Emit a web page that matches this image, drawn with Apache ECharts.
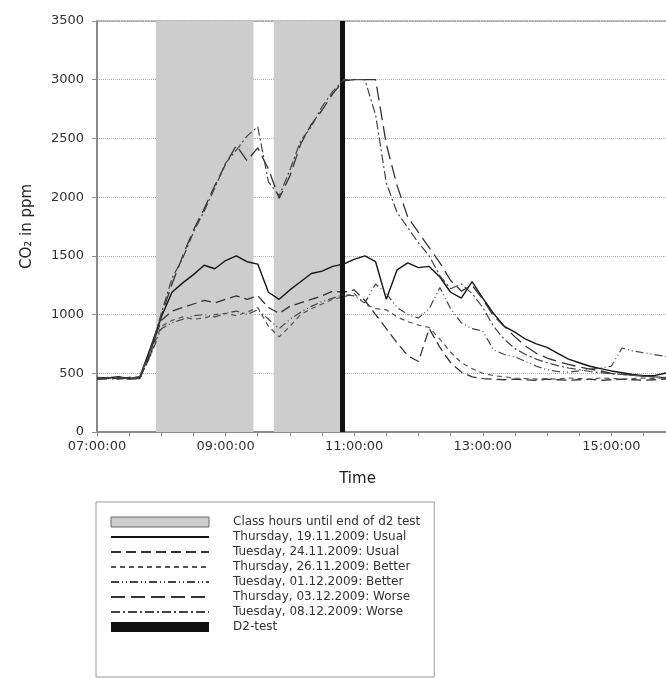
<!DOCTYPE html>
<html><head><meta charset="utf-8">
<script src="https://cdn.jsdelivr.net/npm/echarts@6/dist/echarts.min.js"></script>
<style>html,body{margin:0;padding:0;background:#fff}#c{width:666px;height:679px}</style>
</head><body><div id="c"></div>
<script>
const times = ["07:00","07:10","07:20","07:30","07:40","07:50","08:00","08:10","08:20","08:30","08:40","08:50",
"09:00","09:10","09:20","09:30","09:40","09:50","10:00","10:10","10:20","10:30","10:40","10:50",
"11:00","11:10","11:20","11:30","11:40","11:50","12:00","12:10","12:20","12:30","12:40","12:50",
"13:00","13:10","13:20","13:30","13:40","13:50","14:00","14:10","14:20","14:30","14:40","14:50",
"15:00","15:10","15:20","15:30","15:40","15:50","16:00"];
const xTickLabels = {"7":"07:00:00","9":"09:00:00","11":"11:00:00","13":"13:00:00","15":"15:00:00"};
const classHours = [["07:55","09:26"],["09:45","10:49"]];
const d2Test = "10:49";
const seriesNames = ["Thursday, 19.11.2009: Usual","Tuesday, 24.11.2009: Usual","Thursday, 26.11.2009: Better",
"Tuesday, 01.12.2009: Better","Thursday, 03.12.2009: Worse","Tuesday, 08.12.2009: Worse"];
const classLabel = "Class hours until end of d2 test";
const d2Label = "D2-test";

const thu1911 = [465,460,470,455,470,720,980,1190,1270,1340,1420,1390,1460,1500,1450,1430,1190,1130,1210,1280,1350,1370,1410,1430,
1470,1500,1450,1130,1380,1440,1400,1410,1320,1190,1140,1280,1140,1010,900,850,790,750,720,670,620,590,560,540,520,505,490,480,480,500,550];
const tue2411 = [455,450,460,450,455,690,950,1030,1060,1090,1120,1100,1130,1160,1130,1160,1060,1010,1070,1100,1130,1160,1200,1190,
1210,1120,1000,880,760,650,600,880,720,590,510,470,455,450,445,450,445,440,450,445,440,445,450,440,445,450,445,440,445,450,445];
const thu2611 = [460,465,455,460,470,670,900,950,980,960,970,1000,1010,990,1020,1060,900,810,900,1000,1050,1090,1130,1150,
1180,1090,1050,1040,980,940,910,890,790,680,590,540,500,480,470,460,455,450,455,450,460,455,450,460,455,450,455,460,455,465,460];
const tue0112 = [450,455,450,460,455,650,880,930,960,990,1000,980,1010,1030,1000,1040,960,880,960,1020,1070,1110,1140,1170,
1160,1100,1260,1180,1060,1000,970,1050,1230,1050,930,880,860,700,660,640,600,560,530,515,510,520,535,545,560,715,690,675,660,645,630];
const thu0312 = [450,460,455,465,460,660,990,1260,1500,1720,1900,2100,2280,2440,2310,2420,2240,1990,2180,2450,2620,2740,2880,2990,
3000,3000,3000,2450,2100,1830,1700,1570,1440,1290,1200,1250,1130,990,900,810,730,670,630,600,575,555,535,520,500,490,485,475,470,460,465];
const tue0812 = [460,455,465,450,470,700,1010,1310,1480,1700,1880,2080,2290,2400,2520,2600,2130,2010,2230,2480,2600,2770,2900,3000,
3000,3000,2700,2120,1870,1740,1610,1500,1330,1220,1260,1180,1060,900,790,710,660,620,590,565,545,530,515,505,495,490,480,475,470,465,470];

const allValues = [thu1911,tue2411,thu2611,tue0112,thu0312,tue0812];
const lineStyles = [
  {color:'#151515', type:'solid', width:1.4},
  {color:'#333', type:[10,5], width:1.3},
  {color:'#555', type:[5,4], width:1.2},
  {color:'#444', type:[8,3,1,3,1,3], width:1.2},
  {color:'#333', type:[14,6], width:1.3},
  {color:'#444', type:[9,3,2,3], width:1.2}
];

function toH(s){const p=s.split(':').map(Number);return p[0]+p[1]/60;}
const FONT = 'DejaVu Sans';
const SHADE = '#cdcdcd';

const series = [];
series.push({
  name: classLabel, type:'line', data:[], z:1, symbol:'none',
  itemStyle:{color:SHADE},
  markArea:{silent:true, itemStyle:{color:SHADE}, label:{show:false},
    data: classHours.map(r=>[{xAxis:toH(r[0])},{xAxis:toH(r[1])}])}
});
allValues.forEach((vals,k)=>{
  series.push({
    name: seriesNames[k], type:'line', z:2+k, symbol:'none', showSymbol:false,
    lineStyle: lineStyles[k], itemStyle:{color: lineStyles[k].color},
    data: vals.map((v,i)=>[toH(times[i]), v])
  });
});
series.push({
  name: d2Label, type:'line', data:[], z:20, symbol:'none', itemStyle:{color:'#111'},
  markLine:{silent:true, symbol:['none','none'], label:{show:false},
    lineStyle:{color:'#111', width:5, type:'solid'},
    data:[{xAxis: toH(d2Test)}]}
});

const legendData = [{name:classLabel, icon:'rect', itemStyle:{color:SHADE, borderColor:'#666', borderWidth:1}}]
  .concat(seriesNames.map(n=>({name:n, itemStyle:{opacity:0}})))
  .concat([{name:d2Label, icon:'rect', itemStyle:{color:'#111'}}]);

const chart = echarts.init(document.getElementById('c'), null, {renderer:'canvas'});
chart.setOption({
  animation:false,
  backgroundColor:'#fff',
  grid:{left:97, right:0, top:21, bottom:247, containLabel:false, outerBoundsMode:'none'},
  xAxis:[{
    type:'value', min:7, max:15.85, interval:0.5,
    axisLine:{show:true, onZero:false, lineStyle:{color:'#8a8a8a', width:2}},
    axisTick:{show:true, length:4, lineStyle:{color:'#8a8a8a'}},
    axisLabel:{showMaxLabel:false, margin:8, fontFamily:FONT, fontSize:13, color:'#333',
      formatter:v=>{const r=Math.round(v); return Math.abs(v-r)<1e-6 && xTickLabels[r] ? xTickLabels[r] : '';}},
    splitLine:{show:false},
    name:'Time', nameLocation:'middle', nameGap:40,
    nameTextStyle:{fontFamily:FONT, fontSize:15, color:'#222', padding:[0,48,0,0]}
  },{
    type:'value', position:'top', min:7, max:15.85,
    axisLine:{show:true, onZero:false, lineStyle:{color:'#999', type:'dotted', width:1.5}},
    axisTick:{show:false}, axisLabel:{show:false}, splitLine:{show:false}
  }],
  yAxis:{
    type:'value', min:0, max:3500, interval:500,
    axisLine:{show:true, onZero:false, lineStyle:{color:'#8a8a8a', width:2}},
    axisTick:{show:true, length:5, lineStyle:{color:'#8a8a8a'}},
    axisLabel:{margin:13, fontFamily:FONT, fontSize:13, color:'#333', formatter:v=>String(v)},
    splitLine:{show:true, lineStyle:{color:'#b0b0b0', type:'dotted'}},
    name:'CO₂ in ppm', nameLocation:'middle', nameGap:62,
    nameTextStyle:{fontFamily:FONT, fontSize:15, color:'#222'}
  },
  legend:{
    orient:'vertical', left:96, top:502,
    padding:[14,14,44,14], itemWidth:98, itemHeight:10, itemGap:3,
    borderColor:'#999', borderWidth:1, selectedMode:false,
    textStyle:{fontFamily:FONT, fontSize:12, color:'#333', lineHeight:12, padding:[0,0,0,19]},
    data: legendData
  },
  series: series
});
</script></body></html>
